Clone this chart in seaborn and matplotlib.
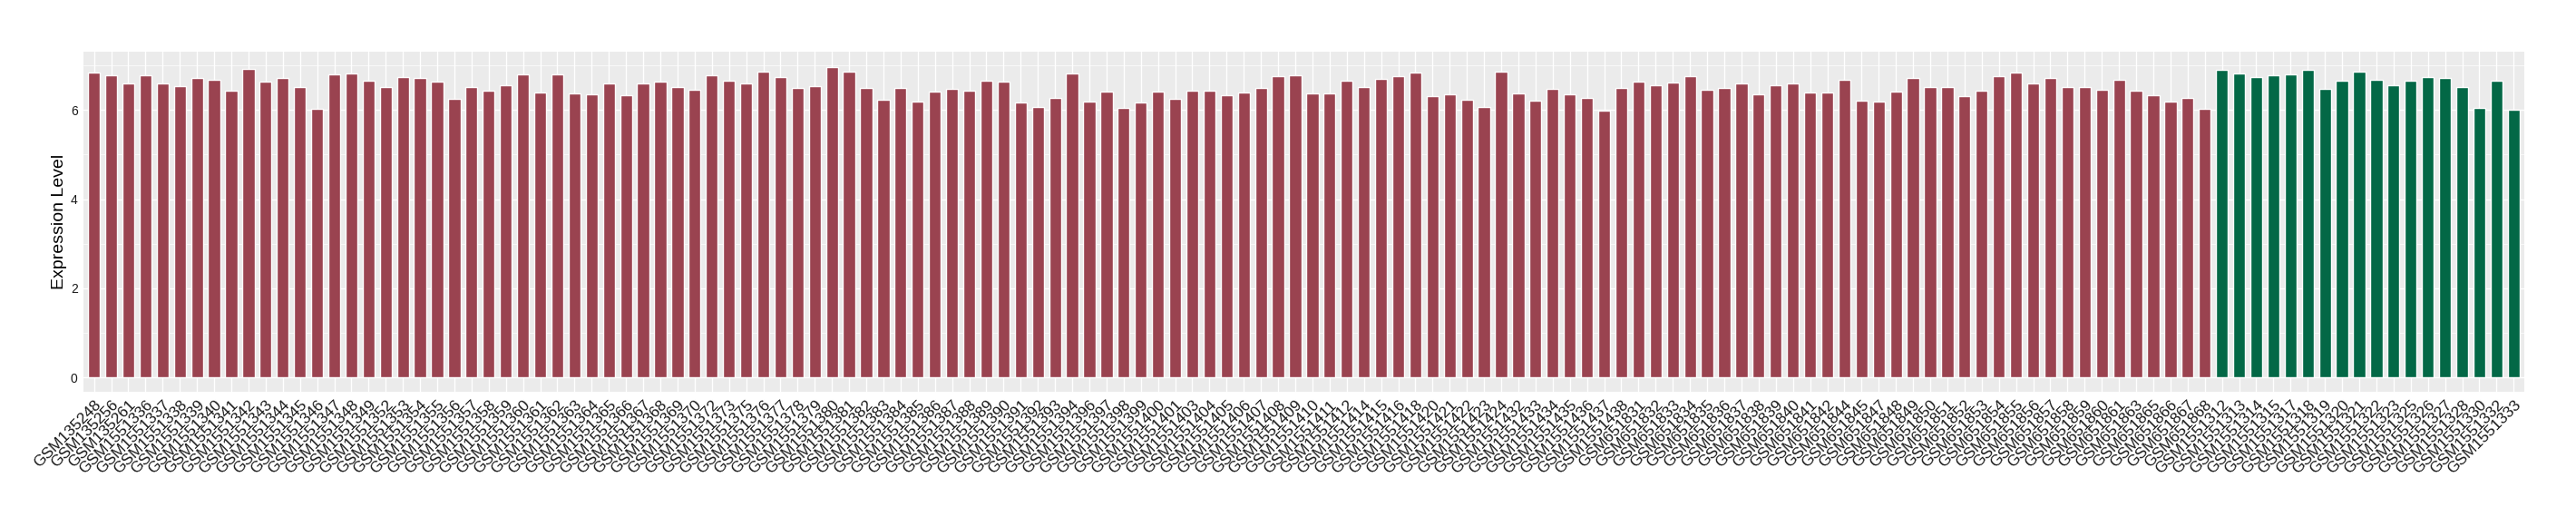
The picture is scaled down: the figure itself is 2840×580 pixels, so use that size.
import matplotlib
matplotlib.use("Agg")
import matplotlib.pyplot as plt
import pandas as pd
import seaborn as sns
from matplotlib.ticker import MultipleLocator

# sample ids, in plotting order
normal_ids = (
    ["GSM135248", "GSM135256", "GSM135261"]
    + ["GSM15513%02d" % i for i in list(range(36, 50)) + list(range(52, 71)) + [72, 73]
       + list(range(75, 95)) + list(range(96, 100))]
    + ["GSM15514%02d" % i for i in [0, 1, 3, 4, 5, 6, 7, 8, 9, 10, 11, 12, 14, 15, 16, 18,
                                     20, 21, 22, 23, 24, 32, 33, 34, 35, 36, 37, 38]]
    + ["GSM6518%02d" % i for i in list(range(31, 43)) + [44, 45] + list(range(47, 62))
       + [63, 65, 66, 67, 68]]
)
tumor_ids = ["GSM15513%02d" % i for i in [12, 13, 14, 15, 17, 18, 19, 20, 21, 22, 23,
                                           25, 26, 27, 28, 30, 32, 33]]

# expression values
normal_expr = [
    6.84, 6.78, 6.60, 6.78, 6.60, 6.54, 6.72, 6.68, 6.44, 6.93, 6.64, 6.72, 6.52, 6.03,
    6.80, 6.82, 6.66, 6.52, 6.74, 6.72, 6.64, 6.25,
    6.52, 6.44, 6.56, 6.80, 6.40, 6.80, 6.38, 6.36, 6.60, 6.34, 6.60, 6.64, 6.52, 6.46,
    6.78, 6.66, 6.60, 6.86, 6.74, 6.50, 6.54, 6.97, 6.86, 6.50, 6.23, 6.50, 6.19, 6.42,
    6.48, 6.44, 6.66, 6.64, 6.17, 6.07, 6.27, 6.82, 6.19, 6.42, 6.05, 6.17, 6.42, 6.25,
    6.44, 6.44, 6.34, 6.40, 6.50, 6.76, 6.78, 6.38, 6.38, 6.66, 6.52, 6.70, 6.76, 6.84,
    6.32, 6.36, 6.23, 6.07, 6.86, 6.38, 6.21, 6.48, 6.36, 6.27,
    5.99, 6.50, 6.64, 6.56, 6.62, 6.76, 6.46, 6.50, 6.60, 6.36, 6.56, 6.60, 6.40, 6.40,
    6.68, 6.21, 6.19, 6.42, 6.72, 6.52, 6.52, 6.32, 6.44, 6.76, 6.84, 6.60, 6.72, 6.52,
    6.52, 6.46, 6.68, 6.44, 6.34, 6.19, 6.27, 6.03,
]
tumor_expr = [6.91, 6.82, 6.74, 6.78, 6.80, 6.91, 6.48, 6.66, 6.86, 6.68, 6.56, 6.66,
              6.74, 6.72, 6.52, 6.05, 6.66, 6.01]

group_colors = {"Normal": "#9A4350", "Tumor": "#036846"}

df = pd.DataFrame({
    "sample": normal_ids + tumor_ids,
    "expr": normal_expr + tumor_expr,
    "group": ["Normal"] * len(normal_ids) + ["Tumor"] * len(tumor_ids),
})

sns.set_style("darkgrid", {"axes.facecolor": "#EBEBEB", "grid.color": "white"})
plt.rcParams["font.family"] = ["Liberation Sans", "DejaVu Sans"]

fig = plt.figure(figsize=(28.4, 5.8), dpi=100)
ax = fig.add_axes([0.0325, 0.2547, 0.9473, 0.6470])

sns.barplot(data=df, x="sample", y="expr", hue="group", palette=group_colors,
            dodge=False, width=0.7, legend=False, saturation=1, ax=ax)

n = len(df)
ax.set_xlim(-0.6, n - 0.4)
ax.set_ylim(-0.33, 7.31)
ax.set_yticks([0, 2, 4, 6])
ax.yaxis.set_minor_locator(MultipleLocator(1))

ax.set_axisbelow(True)
ax.grid(True, which="major", color="white", linewidth=1.0)
ax.yaxis.grid(True, which="minor", color="white", linewidth=0.5)
for s in ax.spines.values():
    s.set_visible(False)

ax.tick_params(axis="both", which="major", length=2.75, width=0.8, color="#333333",
               pad=2, labelcolor="#1a1a1a")
ax.tick_params(axis="y", which="minor", length=0)
ax.tick_params(axis="y", labelsize=10)
ax.tick_params(axis="x", labelsize=12.5)
for lab in ax.get_xticklabels():
    lab.set_rotation(45)
    lab.set_ha("right")
    lab.set_va("top")
    lab.set_rotation_mode("anchor")

ax.set_xlabel("")
ax.set_ylabel("Expression Level", fontsize=14, labelpad=3, color="black")

fig.savefig("out.png", dpi=100)
